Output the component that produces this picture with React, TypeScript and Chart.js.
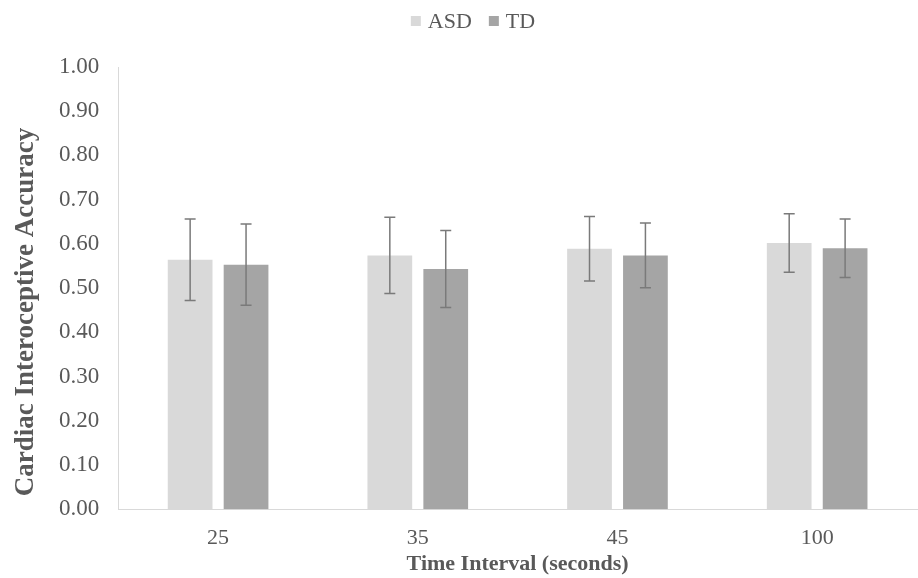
import React, { useEffect, useRef } from "react";
import { Chart, registerables } from "chart.js";

Chart.register(...registerables);

const categories = ["25", "35", "45", "100"];
const asdMeans = [0.564, 0.574, 0.589, 0.602];
const asdErrors = [0.092, 0.086, 0.073, 0.066];
const tdMeans = [0.553, 0.543, 0.574, 0.59];
const tdErrors = [0.092, 0.087, 0.073, 0.066];
const yTitle = "Cardiac Interoceptive Accuracy";
const xTitle = "Time Interval (seconds)";

const FONT = "'Liberation Serif', 'Times New Roman', serif";
const TEXT = "#595959";

const errorBarPlugin = {
  id: "errorBars",
  afterDatasetsDraw(chart: any) {
    const ctx = chart.ctx;
    const yScale = chart.scales.y;
    chart.data.datasets.forEach((ds: any, di: number) => {
      const meta = chart.getDatasetMeta(di);
      const errs: number[] = ds.errors || [];
      meta.data.forEach((bar: any, i: number) => {
        const v = ds.data[i];
        const e = errs[i];
        const x = bar.x;
        const yTop = yScale.getPixelForValue(v + e);
        const yBot = yScale.getPixelForValue(v - e);
        ctx.save();
        ctx.strokeStyle = "#7a7a7a";
        ctx.lineWidth = 1.5;
        ctx.beginPath();
        ctx.moveTo(x, yTop);
        ctx.lineTo(x, yBot);
        ctx.moveTo(x - 5.5, yTop);
        ctx.lineTo(x + 5.5, yTop);
        ctx.moveTo(x - 5.5, yBot);
        ctx.lineTo(x + 5.5, yBot);
        ctx.stroke();
        ctx.restore();
      });
    });
  },
};

// Legend and y-axis title drawn as canvas text with an explicit serif font
const textPlugin = {
  id: "serifText",
  afterDraw(chart: any) {
    const ctx = chart.ctx;
    ctx.save();
    // legend
    ctx.font = `22px ${FONT}`;
    ctx.textBaseline = "middle";
    const box = 10;
    const gapBoxText = 7;
    const gapItems = 17;
    const items = chart.data.datasets.map((ds: any) => ({
      label: ds.label,
      color: ds.backgroundColor,
      w: box + gapBoxText + ctx.measureText(ds.label).width,
    }));
    const total = items.reduce((s: number, it: any) => s + it.w, 0) + gapItems * (items.length - 1);
    let x = chart.width / 2 + 14 - total / 2;
    const ly = 21;
    items.forEach((it: any) => {
      ctx.fillStyle = it.color;
      ctx.fillRect(x, ly - box / 2, box, box);
      ctx.fillStyle = TEXT;
      ctx.textAlign = "left";
      ctx.fillText(it.label, x + box + gapBoxText, ly + 1);
      x += it.w + gapItems;
    });
    // y title
    ctx.font = `bold 27px ${FONT}`;
    ctx.translate(26, 312);
    ctx.rotate(-Math.PI / 2);
    ctx.textAlign = "center";
    ctx.fillStyle = TEXT;
    ctx.fillText(yTitle, 0, 0);
    ctx.restore();
  },
};

export default function App() {
  const ref = useRef<HTMLCanvasElement>(null);
  useEffect(() => {
    Chart.defaults.font.family = FONT;
    const chart = new Chart(ref.current!, {
      type: "bar",
      data: {
        labels: categories,
        datasets: [
          { label: "ASD", data: asdMeans, errors: asdErrors, backgroundColor: "#d9d9d9" } as any,
          { label: "TD", data: tdMeans, errors: tdErrors, backgroundColor: "#a5a5a5" } as any,
        ],
      },
      options: {
        animation: false,
        responsive: false,
        maintainAspectRatio: false,
        layout: { padding: { left: 40, right: 1, top: 67, bottom: 0 } },
        datasets: { bar: { categoryPercentage: 0.56, barPercentage: 0.8 } },
        plugins: {
          tooltip: { enabled: false },
          legend: { display: false },
        },
        scales: {
          x: {
            grid: { display: false, drawTicks: false },
            border: { color: "#d9d9d9", width: 1 },
            ticks: { font: { family: FONT, size: 22 }, color: TEXT, padding: 16 },
            title: {
              display: true,
              text: xTitle,
              font: { family: FONT, size: 22, weight: "bold" },
              color: TEXT,
              padding: { top: -16, bottom: 0 },
            },
          },
          y: {
            min: 0,
            max: 1,
            grid: { display: false, drawTicks: false },
            border: { color: "#d9d9d9", width: 1 },
            ticks: {
              stepSize: 0.1,
              font: { family: FONT, size: 23 },
              color: TEXT,
              padding: 19,
              callback: (v: any) => Number(v).toFixed(2),
            },
          },
        },
      },
      plugins: [errorBarPlugin, textPlugin],
    } as any);
    return () => chart.destroy();
  }, []);
  return (
    <div style={{ position: "fixed", left: 0, top: 0, width: 918, height: 578, background: "#fff" }}>
      <canvas ref={ref} width={918} height={578} style={{ width: 918, height: 578 }} />
    </div>
  );
}
